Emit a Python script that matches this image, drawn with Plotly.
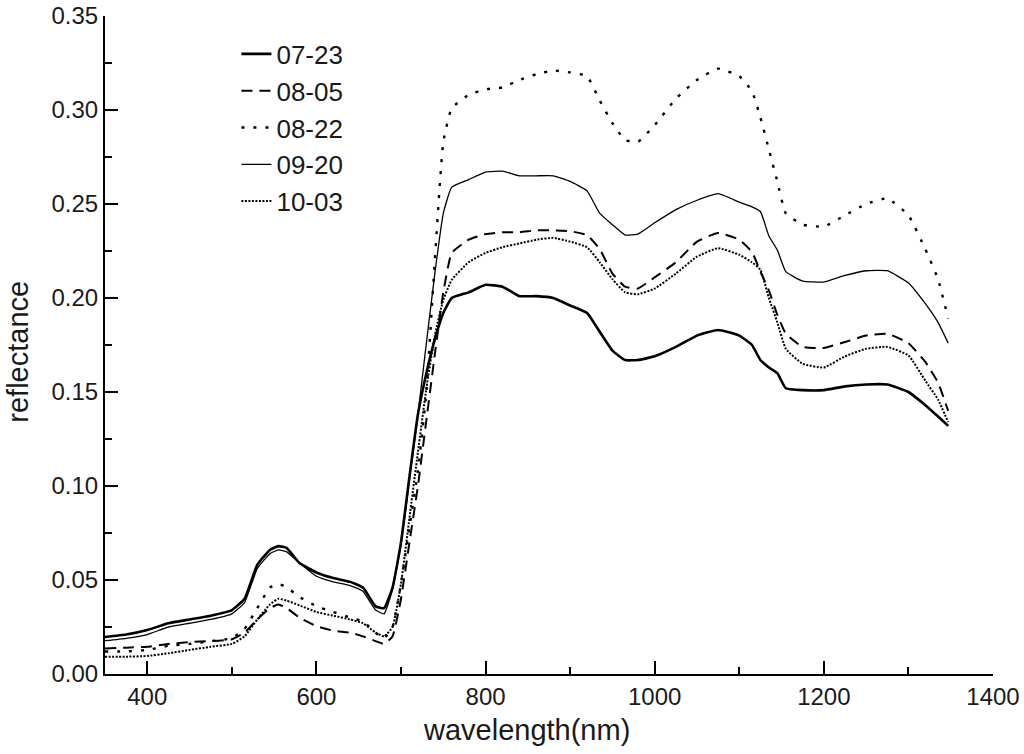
import plotly.graph_objects as go

# wavelength grid (nm)
wavelength = [350, 375, 400, 425, 450, 475, 500, 515, 530, 545, 555, 565, 580, 600,
              620, 640, 655, 670, 680, 690, 700, 710, 720, 730, 740, 750, 760, 780,
              800, 820, 840, 860, 880, 900, 920, 935, 950, 965, 980, 1000, 1025, 1050,
              1075, 1100, 1115, 1125, 1135, 1145, 1155, 1175, 1200, 1225, 1250, 1275,
              1300, 1320, 1335, 1347]

r_0723 = [0.0197, 0.021, 0.0234, 0.027, 0.029, 0.031, 0.034, 0.040, 0.058, 0.066, 0.068, 0.067,
          0.059, 0.054, 0.051, 0.049, 0.046, 0.036, 0.035, 0.046, 0.070, 0.105, 0.138, 0.160,
          0.178, 0.192, 0.200, 0.203, 0.207, 0.206, 0.201, 0.201, 0.200, 0.196, 0.192, 0.182,
          0.172, 0.167, 0.167, 0.169, 0.174, 0.180, 0.183, 0.180, 0.175, 0.167, 0.163, 0.160,
          0.152, 0.151, 0.151, 0.153, 0.154, 0.154, 0.150, 0.143, 0.137, 0.132]

r_0805 = [0.0135, 0.014, 0.0145, 0.016, 0.017, 0.0175, 0.0185, 0.022, 0.029, 0.035, 0.037, 0.035,
          0.030, 0.0255, 0.023, 0.022, 0.020, 0.0175, 0.016, 0.020, 0.040, 0.070, 0.100, 0.135,
          0.170, 0.203, 0.224, 0.231, 0.234, 0.235, 0.235, 0.236, 0.236, 0.2355, 0.2335, 0.226,
          0.213, 0.206, 0.205, 0.211, 0.219, 0.230, 0.2346, 0.231, 0.2245, 0.214, 0.204, 0.191,
          0.181, 0.174, 0.1734, 0.1766, 0.180, 0.181, 0.176, 0.166, 0.155, 0.140]

r_0822 = [0.012, 0.012, 0.0128, 0.015, 0.016, 0.0175, 0.019, 0.024, 0.035, 0.046, 0.048, 0.046,
          0.041, 0.036, 0.033, 0.030, 0.028, 0.022, 0.019, 0.025, 0.048, 0.078, 0.108, 0.150,
          0.220, 0.283, 0.301, 0.308, 0.311, 0.312, 0.316, 0.319, 0.321, 0.320, 0.318, 0.305,
          0.293, 0.284, 0.283, 0.292, 0.306, 0.316, 0.322, 0.318, 0.310, 0.296, 0.279, 0.262,
          0.245, 0.239, 0.238, 0.244, 0.250, 0.253, 0.244, 0.226, 0.210, 0.189]

r_0920 = [0.0177, 0.019, 0.021, 0.025, 0.027, 0.029, 0.032, 0.038, 0.056, 0.064, 0.066, 0.065,
          0.059, 0.052, 0.049, 0.047, 0.044, 0.034, 0.032, 0.045, 0.069, 0.103, 0.138, 0.176,
          0.213, 0.245, 0.259, 0.263, 0.267, 0.2675, 0.265, 0.265, 0.265, 0.262, 0.257, 0.245,
          0.239, 0.2335, 0.234, 0.240, 0.247, 0.252, 0.2555, 0.251, 0.2485, 0.246, 0.233, 0.2255,
          0.214, 0.209, 0.2085, 0.212, 0.2145, 0.2145, 0.208, 0.197, 0.187, 0.176]

r_1003 = [0.0092, 0.0092, 0.0096, 0.011, 0.0128, 0.0145, 0.016, 0.020, 0.029, 0.037, 0.040, 0.039,
          0.0365, 0.033, 0.031, 0.029, 0.027, 0.022, 0.020, 0.025, 0.048, 0.083, 0.118, 0.152,
          0.180, 0.199, 0.2096, 0.219, 0.224, 0.227, 0.229, 0.231, 0.232, 0.230, 0.227, 0.219,
          0.210, 0.203, 0.202, 0.205, 0.213, 0.222, 0.2265, 0.223, 0.219, 0.215, 0.200, 0.187,
          0.173, 0.165, 0.163, 0.169, 0.173, 0.174, 0.1695, 0.156, 0.146, 0.134]

series_names = ['07-23', '08-05', '08-22', '09-20', '10-03']
series_values = [r_0723, r_0805, r_0822, r_0920, r_1003]
line_styles = [
    dict(width=2.6, dash='solid'),
    dict(width=2, dash='11px,7px'),
    dict(width=2.4, dash='3px,9px'),
    dict(width=1.3, dash='solid'),
    dict(width=2, dash='2px,1.5px'),
]

FONT = 'Arial, Liberation Sans, sans-serif'

fig = go.Figure()
for name, vals, ls in zip(series_names, series_values, line_styles):
    fig.add_trace(go.Scatter(
        x=wavelength, y=vals, name=name, mode='lines',
        line=dict(color='black', shape='spline', smoothing=0.4, **ls),
    ))

axis_style = dict(
    ticks='inside', ticklen=13, tickwidth=2, tickcolor='black',
    showline=True, linecolor='black', linewidth=2,
    showgrid=False, zeroline=False, automargin=False,
    tickfont=dict(family=FONT, size=24, color='#1a1a1a'),
)
fig.update_xaxes(
    range=[350, 1400], tick0=0, dtick=200,
    minor=dict(dtick=100, ticks='inside', ticklen=7, tickwidth=2, tickcolor='black'),
    **axis_style,
)
fig.update_yaxes(
    range=[0, 0.35], tick0=0, dtick=0.05, tickformat='.2f',
    minor=dict(dtick=0.025, ticks='inside', ticklen=7, tickwidth=2, tickcolor='black'),
    **axis_style,
)

fig.update_layout(
    width=1024, height=754,
    margin=dict(l=105, r=31, t=16, b=80),
    plot_bgcolor='white', paper_bgcolor='white',
    legend=dict(
        x=0.148, y=0.978, xanchor='left', yanchor='top',
        font=dict(family=FONT, size=26, color='#1a1a1a'),
        bgcolor='rgba(0,0,0,0)', tracegroupgap=0,
    ),
    annotations=[
        dict(text='wavelength(nm)', x=0.475, y=-0.058, xref='paper', yref='paper',
             xanchor='center', yanchor='top', showarrow=False,
             font=dict(family=FONT, size=29, color='#1a1a1a')),
        dict(text='reflectance', x=-0.099, y=0.49, xref='paper', yref='paper',
             xanchor='center', yanchor='middle', textangle=-90, showarrow=False,
             font=dict(family=FONT, size=29, color='#1a1a1a')),
    ],
)

fig.write_html("out.html", config={'displayModeBar': False},
               post_script="document.body.style.margin='0';")
